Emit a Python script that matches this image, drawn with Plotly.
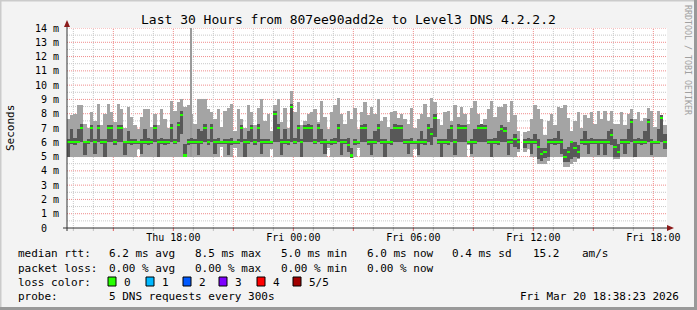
import plotly.graph_objects as go
from datetime import datetime, timedelta

# ---------------- data ----------------
TITLE = "Last 30 Hours from 807ee90add2e to Level3 DNS 4.2.2.2"
Y_TITLE = "Seconds"
SIDE_TEXT = "RRDTOOL / TOBI OETIKER"
START = datetime(2026, 3, 19, 12, 40)     # first 10-min sample
STEP_MIN = 10
RANGE_START = "2026-03-19 12:41:00"
RANGE_END = "2026-03-20 18:41:00"

# smoke: lowest ping, 2nd, median, 4th, highest ping (ms)
p_max = [7.6, 7.9, 8.0, 8.6, 8.6, 7.3, 7.0, 8.1, 7.5, 8.7,
         7.2, 8.0, 8.7, 8.1, 7.4, 8.7, 8.3, 7.0, 8.5, 7.8,
         7.2, 6.9, 7.8, 8.3, 8.3, 7.1, 8.0, 7.2, 8.3, 7.6,
         7.0, 8.9, 8.2, 8.8, 9.0, 8.5, 8.6, 8.0, 7.3, 9.0,
         9.0, 9.0, 8.3, 8.1, 7.6, 8.3, 7.1, 8.2, 8.4, 8.7,
         6.8, 8.3, 7.6, 7.0, 8.6, 8.1, 7.2, 8.4, 9.0, 7.5,
         8.0, 6.8, 8.6, 9.0, 7.4, 8.4, 7.0, 9.6, 8.1, 8.8,
         7.2, 7.5, 8.0, 8.1, 8.3, 7.4, 8.9, 7.8, 6.9, 8.1,
         8.6, 9.1, 8.0, 7.3, 8.2, 7.6, 8.4, 6.9, 8.1, 8.8,
         7.9, 8.5, 8.0, 9.0, 7.5, 7.8, 7.1, 8.1, 8.2, 7.7,
         8.0, 7.6, 7.3, 8.4, 7.0, 7.6, 8.0, 8.7, 7.8, 9.1,
         8.8, 7.6, 7.2, 8.1, 8.2, 7.5, 8.6, 7.8, 8.5, 8.0,
         7.3, 8.4, 8.9, 8.0, 7.3, 7.6, 8.3, 8.9, 7.8, 8.5,
         8.5, 8.7, 7.4, 8.9, 7.9, 6.8, None, 6.7, 6.8, 7.6,
         8.6, 8.3, 7.6, 6.5, 7.5, 8.0, 7.2, 8.5, 8.4, 8.6,
         7.7, 6.8, 7.5, 8.1, 7.0, 7.9, 7.7, 8.1, 7.3, 8.2,
         7.6, 8.2, 7.5, 8.2, 7.3, 7.3, 8.1, 7.2, 8.0, 8.3,
         7.6, 8.1, 7.5, 7.7, 8.4, 8.2, 7.1, 8.2, 7.9, 7.2]

p_min = [5, 5, 5, 5, 5, 5, 5, 5, 5, 5,
         5, 5, 5, 5, 5, 5, 5, 5, 5, 5,
         5, 5.5, 5, 5, 5, 5, 5, 5, 5, 5,
         5, 5, 5, 5, 5, 5, 5, 5, 5, 5,
         5, 5, 5, 5, 5, 5, 5.7, 5, 5, 5,
         5.6, 5, 5, 5, 5, 5, 5, 5, 5, 5,
         5, 5.5, 5, 5, 5, 5, 5, 5, 5, 5,
         5, 5, 5, 5, 5, 5, 5, 5, 5.6, 5,
         5, 5, 5, 5, 5, 4.9, 5, 5.6, 5, 5,
         5, 5, 5, 5, 5, 5, 5, 5, 5, 5,
         5, 5, 5, 5, 5.5, 5, 5, 5, 5, 5,
         5, 5, 5, 5, 5, 5, 5, 5, 5, 5,
         5.8, 5, 5, 5, 5, 5, 5, 5, 5, 5,
         5, 5, 5, 5, 5, 5.3, None, 5.3, 5.5, 5,
         5, 4.5, 4.5, 4.5, 4.7, 5, 5, 5, 5, 4.3,
         4.3, 4.5, 4.6, 4.8, 5, 5, 5, 5, 5, 5,
         5, 5, 5, 5, 4.8, 4.8, 5, 5, 5, 5,
         5, 5, 5, 5, 5, 5, 5, 5, 5, 5]

p_lo = [5.0, 5.9, 5.8, 6.0, 6.0, 5.1, 5.9, 6.0, 5.2, 6.0,
        5.9, 5.0, 6.0, 6.0, 5.8, 6.0, 6.0, 5.1, 5.9, 5.8,
        5.9, 5.9, 5.2, 5.9, 5.8, 5.9, 6.0, 5.0, 5.9, 5.8,
        5.9, 6.0, 5.9, 6.0, 6.6, 5.0, 5.8, 5.9, 5.9, 5.1,
        5.9, 6.0, 5.8, 6.0, 5.2, 5.9, 5.9, 5.9, 5.1, 5.8,
        5.9, 5.9, 6.0, 5.0, 5.9, 6.0, 5.8, 6.0, 5.2, 5.9,
        5.9, 5.9, 6.0, 6.0, 5.1, 5.9, 5.8, 6.0, 5.9, 6.0,
        5.0, 6.0, 6.0, 6.0, 5.9, 6.0, 5.9, 5.2, 5.9, 5.8,
        5.9, 6.0, 5.1, 5.9, 5.3, 4.9, 5.8, 5.9, 6.0, 6.0,
        5.8, 5.1, 5.9, 6.0, 5.9, 5.0, 5.9, 5.8, 6.0, 6.0,
        6.0, 5.9, 5.2, 5.9, 5.9, 5.1, 5.9, 5.8, 6.0, 5.8,
        6.4, 5.9, 5.0, 5.9, 5.8, 6.0, 5.1, 6.0, 6.0, 6.0,
        5.9, 5.2, 5.9, 6.0, 6.0, 6.0, 5.9, 5.0, 5.9, 5.8,
        6.0, 6.0, 5.1, 5.9, 5.7, 5.5, None, 5.6, 5.9, 5.2,
        5.9, 4.8, 4.7, 4.9, 5.0, 5.9, 5.8, 5.9, 5.2, 4.6,
        4.6, 4.8, 5.0, 4.9, 5.9, 5.8, 5.2, 5.9, 5.9, 5.1,
        5.9, 5.1, 5.9, 5.8, 5.0, 5.0, 5.9, 5.2, 5.9, 6.0,
        5.0, 5.9, 5.8, 5.9, 6.0, 5.1, 5.9, 5.9, 6.0, 5.5]

p_hi = [6.2, 6.9, 6.3, 6.9, 7.3, 6.1, 6.2, 7.2, 6.2, 7.2,
        6.2, 6.2, 7.2, 7.2, 6.2, 7.2, 7.2, 6.1, 6.8, 6.2,
        6.2, 6.1, 6.2, 6.9, 6.3, 6.2, 7.2, 6.2, 6.3, 6.2,
        6.2, 7.3, 6.2, 7.4, 8.2, 5.9, 6.2, 6.3, 6.2, 6.9,
        6.8, 7.3, 6.2, 7.3, 6.2, 6.3, 6.1, 6.2, 6.2, 6.3,
        6.1, 6.2, 7.2, 6.2, 6.8, 7.2, 6.2, 7.3, 6.2, 6.2,
        6.2, 6.1, 8.2, 7.3, 6.2, 6.9, 6.2, 8.7, 6.3, 7.2,
        6.2, 7.2, 7.3, 7.2, 6.2, 7.3, 6.9, 6.2, 6.1, 6.2,
        6.3, 7.3, 6.2, 6.2, 6.3, 5.6, 6.2, 6.1, 7.2, 7.3,
        6.2, 6.2, 6.8, 7.3, 6.2, 6.2, 6.1, 6.9, 7.3, 7.2,
        7.2, 6.2, 6.2, 6.3, 6.1, 6.2, 6.8, 6.2, 7.3, 7.0,
        8.0, 6.2, 6.2, 6.2, 6.9, 7.2, 6.2, 7.3, 7.2, 7.2,
        6.1, 6.2, 6.9, 7.2, 7.3, 7.2, 6.2, 6.2, 6.3, 6.8,
        7.2, 7.1, 6.2, 6.2, 6.6, 6.2, None, 6.2, 6.3, 6.2,
        6.6, 6.2, 5.6, 5.6, 6.2, 6.2, 6.3, 6.8, 6.2, 5.5,
        5.7, 6.1, 6.0, 5.8, 6.2, 6.8, 6.2, 6.3, 6.2, 6.2,
        6.2, 6.2, 6.8, 6.9, 6.2, 5.9, 6.2, 6.2, 6.9, 7.6,
        6.2, 6.3, 6.2, 6.8, 7.6, 6.2, 6.1, 6.9, 7.9, 6.6]

median = [6, 6, 6, 6, 7, 6, 6, 7, 6, 7,
          6, 6, 7, 7, 6, 7, 7, 6, 6, 6,
          6, 6, 6, 6, 6, 6, 7, 6, 6, 6,
          6, 7, 6, 7.2, 7.9, 5.1, 6, 6, 6, 6,
          6, 7, 6, 7, 6, 6, 6, 6, 6, 6,
          6, 6, 7, 6, 6, 7, 6, 7, 6, 6,
          6, 6, 8, 7, 6, 6, 6, 8.5, 6, 7,
          6, 7, 7, 7, 6, 7, 6, 6, 6, 6,
          6, 7, 6, 6, 5.8, 5.1, 6, 6, 7, 7,
          6, 6, 6, 7, 6, 6, 6, 6, 7, 7,
          7, 6, 6, 6, 6, 6, 6, 6, 7, 6.6,
          7.7, 6, 6, 6, 6, 7, 6, 7, 7, 7,
          6, 6, 6, 7, 7, 7, 6, 6, 6, 6,
          6.9, 6.8, 6, 6, 6.2, 6, None, 6, 6, 6,
          6, 5.7, 5.2, 5.3, 6, 6, 6, 6, 6, 5.0,
          5.3, 6, 5.6, 5.3, 6, 6, 6, 6, 6, 6,
          6, 6, 6, 6.5, 5.7, 5.3, 6, 6, 6, 7.4,
          6, 6, 6, 6, 7.4, 6, 6, 6, 7.7, 6]

# single outlier ping
spike_time = ["2026-03-19 18:52:30"]
spike_low = [5.0]
spike_high = [14.5]

# axis labels
y_ticks = list(range(0, 15))
y_ticktext = ["0\u00a0\u00a0"] + [f"{v} m" for v in range(1, 15)]
x_label_times = ["2026-03-19 18:00", "2026-03-20 00:00", "2026-03-20 06:00",
                 "2026-03-20 12:00", "2026-03-20 18:00"]
x_labels = ["Thu 18:00", "Fri 00:00", "Fri 06:00", "Fri 12:00", "Fri 18:00"]

# legend texts
row_rtt = [("median rtt:", 16), ("6.2 ms avg", 107), ("8.5 ms max", 193),
           ("5.0 ms min", 279), ("6.0 ms now", 365), ("0.4 ms sd", 450),
           ("15.2", 531), ("am/s", 580)]
row_loss = [("packet loss:", 16), ("0.00 % avg", 107), ("0.00 % max", 193),
            ("0.00 % min", 279), ("0.00 % now", 365)]
loss_labels = ["0", "1", "2", "3", "4", "5/5"]
loss_colors = ["#26FF00", "#00B8FF", "#0059FF", "#7E00FF", "#FF0000", "#A10000"]
loss_box_x = [108, 146, 183, 219, 257, 293]
probe_text = "5 DNS requests every 300s"
date_text = "Fri Mar 20 18:38:23 2026"

# ---------------- layout helpers ----------------
W, H = 697, 310
PL, PR, PT, PB = 67, 667, 28, 228
FONT = "DejaVu Sans Mono"
LIGHT = "#A4A4A4"
DARK = "#585858"
GREEN = "#22FF00"


def fx(x):
    return (x - PL) / (PR - PL)


def fy(y):
    return (PB - y) / (PB - PT)


step = timedelta(minutes=STEP_MIN)
times = [START + step * i + step / 2 for i in range(len(median))]
bw = STEP_MIN * 60 * 1000


def span(lo, hi):
    return [None if (a is None or b is None) else b - a for a, b in zip(lo, hi)]


fig = go.Figure()
fig.add_trace(go.Bar(x=times, y=span(p_min, p_max), base=p_min, width=bw,
                     marker=dict(color=LIGHT, line=dict(width=0)), hoverinfo="skip"))
fig.add_trace(go.Bar(x=spike_time, y=span(spike_low, spike_high), base=spike_low,
                     width=5 * 60 * 1000,
                     marker=dict(color="#9A9A9A", line=dict(width=0)), hoverinfo="skip"))
fig.add_trace(go.Bar(x=times, y=span(p_lo, p_hi), base=p_lo, width=bw,
                     marker=dict(color=DARK, line=dict(width=0)), hoverinfo="skip"))
med_lo = [None if m is None else m - 0.07 for m in median]
med_hi = [None if m is None else m + 0.07 for m in median]
fig.add_trace(go.Bar(x=times, y=span(med_lo, med_hi), base=med_lo, width=bw,
                     marker=dict(color=GREEN, line=dict(width=0)), hoverinfo="skip"))

shapes = []
# grid
for k in range(1, 29):
    v = k * 0.5
    major = (k % 2 == 0)
    shapes.append(dict(type="line", xref="paper", yref="y", x0=0, x1=1, y0=v, y1=v,
                       layer="below",
                       line=dict(color="#F08C8C" if major else "#C8C8C8", width=1,
                                 dash="1px,1px")))
t = datetime(2026, 3, 19, 13, 0)
tend = datetime(2026, 3, 20, 18, 41)
while t <= tend:
    major = (t.hour % 3 == 0)
    shapes.append(dict(type="line", xref="x", yref="paper", x0=t, x1=t, y0=0, y1=1,
                       layer="below",
                       line=dict(color="#F08C8C" if major else "#C8C8C8", width=1,
                                 dash="1px,1px")))
    shapes.append(dict(type="line", xref="x", yref="paper", x0=t, x1=t,
                       y0=fy(228), y1=fy(231),
                       line=dict(color="#E06060" if major else "#C0C0C0", width=1)))
    t += timedelta(hours=1)

# axes with arrows
AX = "#333333"
ARROW = "#8B1A1A"
shapes.append(dict(type="line", xref="paper", yref="paper", x0=fx(63), x1=fx(670),
                   y0=fy(228), y1=fy(228), line=dict(color=AX, width=1)))
shapes.append(dict(type="line", xref="paper", yref="paper", x0=fx(67), x1=fx(67),
                   y0=fy(231), y1=fy(24), line=dict(color=AX, width=1)))
shapes.append(dict(type="path", xref="paper", yref="paper",
                   path=f"M {fx(64)} {fy(27)} L {fx(70)} {fy(27)} L {fx(67)} {fy(20)} Z",
                   fillcolor=ARROW, line=dict(width=0)))
shapes.append(dict(type="path", xref="paper", yref="paper",
                   path=f"M {fx(667)} {fy(225)} L {fx(667)} {fy(231)} L {fx(674)} {fy(228)} Z",
                   fillcolor=ARROW, line=dict(width=0)))

# frame
shapes.append(dict(type="line", xref="paper", yref="paper", x0=fx(0), x1=fx(697),
                   y0=fy(0.5), y1=fy(0.5), line=dict(color="#CBCBCB", width=2)))
shapes.append(dict(type="line", xref="paper", yref="paper", x0=fx(0.5), x1=fx(0.5),
                   y0=fy(0), y1=fy(310), line=dict(color="#CBCBCB", width=2)))
shapes.append(dict(type="line", xref="paper", yref="paper", x0=fx(0), x1=fx(697),
                   y0=fy(308.5), y1=fy(308.5), line=dict(color="#999999", width=3)))
shapes.append(dict(type="line", xref="paper", yref="paper", x0=fx(695.5), x1=fx(695.5),
                   y0=fy(0), y1=fy(310), line=dict(color="#999999", width=3)))

# loss color boxes
for bx, col in zip(loss_box_x, loss_colors):
    shapes.append(dict(type="rect", xref="paper", yref="paper",
                       x0=fx(bx), x1=fx(bx + 8), y0=fy(286), y1=fy(277),
                       fillcolor=col, line=dict(color="#000000", width=1)))

ann = []


def txt(s, x, y, size=11, anchor="left", color="#000000", angle=0):
    ann.append(dict(text=s, xref="paper", yref="paper", x=fx(x), y=fy(y),
                    xanchor=anchor, yanchor="middle", showarrow=False,
                    textangle=angle, font=dict(family=FONT, size=size, color=color)))


txt(TITLE, 348, 19, size=13, anchor="center")
txt(Y_TITLE, 10, 128, size=11, anchor="center", angle=-90)
txt(SIDE_TEXT, 688, 60, size=8.3, anchor="center", color="#A0A0A0", angle=90)
for s, x in row_rtt:
    txt(s, x, 254)
for s, x in row_loss:
    txt(s, x, 268)
txt("loss color:", 16, 282)
for bx, lab in zip(loss_box_x, loss_labels):
    txt(lab, bx + 14, 282)
txt("probe:", 16, 296)
txt(probe_text, 107, 296)
txt(date_text, 681, 296, anchor="right")

fig.update_layout(
    width=W, height=H,
    margin=dict(l=PL, r=W - PR, t=PT, b=H - PB, pad=0),
    paper_bgcolor="#F3F3F3", plot_bgcolor="#FFFFFF",
    barmode="overlay", bargap=0, showlegend=False,
    shapes=shapes, annotations=ann,
    xaxis=dict(type="date", range=[RANGE_START, RANGE_END], showgrid=False,
               zeroline=False, showline=False, tickmode="array",
               tickvals=x_label_times, ticktext=x_labels, ticks="",
               ticklabelstandoff=2,
               tickfont=dict(family=FONT, size=10, color="#000000")),
    yaxis=dict(range=[0, 14], showgrid=False, zeroline=False, showline=False,
               tickmode="array", tickvals=y_ticks, ticktext=y_ticktext,
               ticks="", ticklabelstandoff=7,
               tickfont=dict(family=FONT, size=10, color="#000000")),
)

fig.write_html("out.html", config={"displayModeBar": False})
